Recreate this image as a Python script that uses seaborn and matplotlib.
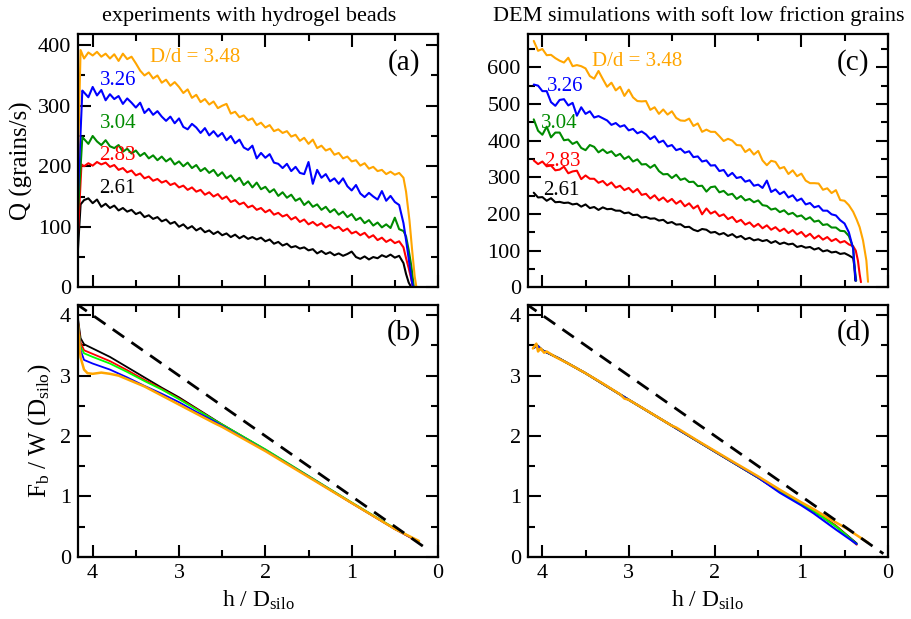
import numpy as np
import matplotlib
matplotlib.use("Agg")
import matplotlib.pyplot as plt
import seaborn as sns
from matplotlib.ticker import MultipleLocator

# ---------------------------------------------------------------- data
# sampling heights h / D_silo for the flow-rate curves (body of each curve)
H_GRID = np.linspace(4.10, 0.40, 75)

DD_LABELS = ["2.61", "2.83", "3.04", "3.26", "3.48"]

# experiments: Q (grains/s)
exp_q_261 = [144, 147, 139, 145, 133, 138, 131, 135, 127, 131,
             125, 128, 121, 124, 116, 119, 113, 116, 109, 112,
             105, 108, 100, 104, 97, 101, 94, 98, 91, 94,
             88, 92, 86, 89, 83, 87, 81, 85, 80, 83,
             79, 82, 76, 79, 72, 75, 69, 72, 66, 68,
             64, 66, 61, 63, 56, 60, 55, 58, 53, 56,
             52, 55, 59, 50, 47, 51, 46, 50, 48, 53,
             50, 54, 49, 52, 40]
exp_q_283 = [200, 205, 201, 207, 203, 206, 199, 202, 194, 197,
             190, 193, 185, 188, 180, 183, 176, 179, 173, 176,
             169, 172, 165, 168, 161, 165, 158, 161, 153, 157,
             150, 154, 146, 150, 141, 144, 137, 140, 132, 135,
             128, 131, 124, 128, 120, 123, 117, 120, 112, 116,
             108, 112, 104, 108, 102, 106, 99, 103, 97, 100,
             93, 97, 89, 92, 86, 90, 82, 86, 78, 82,
             75, 79, 73, 76, 66]
exp_q_304 = [245, 237, 250, 241, 235, 243, 233, 230, 235, 224,
             229, 221, 226, 217, 222, 213, 218, 210, 216, 208,
             213, 203, 208, 200, 206, 197, 202, 192, 197, 189,
             194, 184, 190, 180, 185, 175, 181, 169, 175, 165,
             173, 162, 166, 157, 162, 151, 157, 148, 153, 143,
             147, 136, 142, 133, 137, 128, 133, 124, 129, 120,
             125, 116, 121, 111, 115, 106, 111, 102, 107, 99,
             104, 98, 115, 96, 93]
exp_q_326 = [322, 314, 331, 317, 326, 309, 319, 311, 316, 303,
             312, 305, 297, 305, 288, 295, 285, 291, 282, 275,
             282, 271, 279, 265, 261, 270, 264, 255, 263, 251,
             258, 249, 255, 243, 250, 238, 244, 231, 227, 234,
             213, 222, 214, 220, 206, 204, 197, 204, 192, 199,
             189, 187, 207, 171, 194, 181, 187, 175, 180, 171,
             180, 167, 160, 169, 155, 149, 156, 150, 145, 159,
             143, 151, 141, 136, 106]
exp_q_348 = [378, 388, 383, 389, 381, 386, 378, 385, 374, 386,
             377, 381, 370, 358, 350, 355, 345, 350, 338, 343,
             333, 339, 331, 321, 327, 313, 318, 306, 311, 302,
             307, 296, 300, 303, 287, 290, 281, 284, 276, 279,
             268, 272, 264, 268, 258, 261, 255, 258, 249, 252,
             242, 247, 237, 244, 230, 234, 226, 229, 219, 222,
             213, 216, 208, 210, 201, 205, 196, 199, 192, 194,
             187, 191, 186, 189, 181]
# start-up and emptying ends of each experimental curve: (h, Q)
exp_head = [[(4.18, 40), (4.14, 137)], [(4.18, 60), (4.13, 203)],
            [(4.18, 100), (4.12, 248)], [(4.18, 120), (4.12, 325)],
            [(4.18, 150), (4.14, 392)]]
exp_tail = [[(0.37, 22), (0.34, 8), (0.31, 0)],
            [(0.37, 48), (0.34, 32), (0.31, 14), (0.29, 0)],
            [(0.37, 84), (0.34, 62), (0.31, 36), (0.28, 0)],
            [(0.37, 78), (0.34, 48), (0.31, 16), (0.29, 0)],
            [(0.37, 158), (0.33, 110), (0.30, 62), (0.27, 18), (0.25, 0)]]

# DEM simulations: Q (grains/s)
dem_q_261 = [258, 245, 246, 236, 243, 232, 233, 230, 231, 226,
             228, 220, 226, 216, 219, 211, 218, 213, 214, 209,
             209, 202, 204, 197, 198, 190, 192, 187, 188, 182,
             184, 175, 178, 171, 172, 164, 165, 157, 153, 159,
             157, 149, 151, 144, 148, 140, 145, 136, 140, 131,
             135, 128, 131, 126, 129, 121, 126, 118, 122, 117,
             119, 110, 113, 108, 110, 103, 107, 98, 101, 95,
             97, 91, 93, 87, 80]
dem_q_283 = [346, 336, 343, 330, 332, 319, 321, 329, 311, 316,
             318, 295, 305, 296, 296, 285, 290, 278, 286, 272,
             277, 265, 271, 259, 268, 252, 255, 242, 251, 237,
             245, 233, 241, 228, 236, 221, 229, 215, 223, 199,
             215, 201, 207, 194, 199, 186, 192, 178, 184, 171,
             177, 165, 173, 161, 169, 157, 164, 153, 160, 148,
             156, 144, 151, 138, 146, 133, 141, 130, 137, 126,
             132, 122, 126, 117, 112]
dem_q_304 = [458, 427, 416, 438, 409, 422, 422, 401, 403, 391,
             397, 380, 374, 388, 383, 368, 376, 366, 371, 358,
             364, 350, 357, 343, 349, 335, 336, 326, 334, 317,
             308, 309, 298, 307, 293, 297, 287, 288, 276, 277,
             261, 273, 275, 259, 263, 252, 255, 241, 249, 237,
             241, 232, 237, 224, 222, 212, 215, 205, 210, 199,
             203, 193, 196, 185, 191, 179, 182, 170, 172, 163,
             163, 154, 153, 140, 108]
dem_q_326 = [553, 550, 535, 535, 505, 495, 511, 513, 496, 503,
             468, 491, 473, 480, 463, 467, 461, 455, 443, 448,
             438, 442, 428, 432, 420, 425, 417, 404, 412, 395,
             400, 384, 388, 374, 378, 367, 371, 355, 357, 343,
             346, 332, 333, 317, 320, 303, 312, 298, 301, 288,
             292, 277, 280, 271, 291, 260, 267, 254, 261, 245,
             251, 236, 242, 226, 230, 218, 222, 209, 209, 199,
             196, 183, 174, 150, 105]
dem_q_348 = [672, 645, 650, 633, 634, 625, 618, 613, 626, 603,
             606, 603, 597, 576, 569, 590, 568, 547, 558, 537,
             547, 522, 539, 518, 508, 507, 508, 484, 491, 473,
             485, 471, 480, 462, 455, 454, 460, 440, 447, 424,
             430, 424, 424, 412, 399, 405, 400, 388, 387, 369,
             377, 362, 372, 346, 333, 345, 342, 324, 328, 309,
             319, 303, 310, 291, 284, 284, 283, 266, 270, 257,
             265, 238, 236, 224, 206]
dem_tail = [[(0.385, 55), (0.375, 18)],
            [(0.37, 100), (0.345, 73), (0.325, 36), (0.31, 14)],
            [(0.385, 58), (0.365, 18)],
            [(0.385, 55), (0.37, 18)],
            [(0.36, 185), (0.325, 164), (0.286, 128), (0.247, 73), (0.228, 15)]]

# bottom force F_b / W(D_silo), experiments
exp_fb_h = [4.18, 4.14, 4.10, 4.0, 3.8, 3.6, 3.4, 3.2, 3.0, 2.8, 2.6, 2.5,
            2.0, 1.5, 1.0, 0.5, 0.25]
exp_fb_261 = [4.05, 3.62, 3.52, 3.45, 3.31, 3.14, 2.97, 2.80, 2.64, 2.46,
              2.28, 2.19, 1.77, 1.33, 0.89, 0.46, 0.27]
exp_fb_283 = [4.0, 3.55, 3.42, 3.36, 3.24, 3.09, 2.93, 2.78, 2.62, 2.45,
              2.27, 2.19, 1.77, 1.33, 0.89, 0.46, 0.26]
exp_fb_304 = [4.0, 3.48, 3.37, 3.31, 3.20, 3.06, 2.91, 2.77, 2.61, 2.44,
              2.27, 2.19, 1.78, 1.34, 0.90, 0.47, 0.27]
exp_fb_326 = [4.0, 3.42, 3.26, 3.20, 3.10, 2.97, 2.83, 2.70, 2.56, 2.40,
              2.25, 2.17, 1.76, 1.33, 0.89, 0.46, 0.27]
exp_fb_348_h = [4.18, 4.14, 4.10, 4.06, 4.0, 3.9, 3.8, 3.7, 3.6, 3.4, 3.2,
                3.0, 2.8, 2.6, 2.5, 2.0, 1.5, 1.0, 0.5, 0.22]
exp_fb_348 = [4.0, 3.30, 3.10, 3.04, 3.03, 3.05, 3.03, 3.00, 2.94, 2.82,
              2.67, 2.52, 2.37, 2.22, 2.15, 1.75, 1.32, 0.89, 0.46, 0.26]

# bottom force F_b / W(D_silo), DEM
dem_fb_h = [4.10, 4.06, 4.0, 3.8, 3.5, 3.0, 2.5, 2.0, 1.5, 1.25, 1.0, 0.86,
            0.6, 0.36]
dem_fb_261 = [3.46, 3.50, 3.42, 3.28, 3.04, 2.60, 2.17, 1.74, 1.31, 1.08,
              0.87, 0.76, 0.51, 0.22]
dem_fb_283 = [3.46, 3.50, 3.42, 3.28, 3.04, 2.60, 2.17, 1.74, 1.31, 1.08,
              0.87, 0.77, 0.51, 0.20]
dem_fb_304 = [3.46, 3.50, 3.42, 3.28, 3.04, 2.60, 2.17, 1.74, 1.31, 1.08,
              0.87, 0.76, 0.50, 0.21]
dem_fb_326 = [3.46, 3.50, 3.42, 3.28, 3.04, 2.60, 2.17, 1.74, 1.31, 1.06,
              0.85, 0.72, 0.45, 0.21]
dem_fb_348_h = [4.11, 4.07, 4.05, 4.02, 3.98, 3.95, 3.85, 3.7, 3.5, 3.3, 3.1,
                3.05, 3.0, 2.8, 2.5, 2.45, 2.2, 2.0, 1.8, 1.5, 1.25, 1.0,
                0.86, 0.7, 0.48, 0.225]
dem_fb_348 = [3.45, 3.53, 3.40, 3.45, 3.38, 3.40, 3.31, 3.20, 3.04, 2.87,
              2.69, 2.62, 2.60, 2.43, 2.17, 2.14, 1.92, 1.75, 1.58, 1.33,
              1.11, 0.90, 0.79, 0.65, 0.47, 0.23]

# hydrostatic reference F_b / W = h / D_silo
ref_exp_h = [4.20, 0.11]
ref_dem_h = [4.20, 0.05]

COLORS_TOP = ["#000000", "#ff0000", "#008b00", "#0000ff", "#ffa500"]
COLORS_BOT = ["#000000", "#ff0000", "#00ff00", "#0000ff", "#ffa500"]

# ---------------------------------------------------------------- style
sns.set_style("ticks")
plt.rcParams["font.family"] = ["Liberation Serif", "DejaVu Serif"]
plt.rcParams["mathtext.fontset"] = "custom"
plt.rcParams["mathtext.rm"] = "Liberation Serif"
plt.rcParams["mathtext.it"] = "Liberation Serif:italic"
for key in ["text.color", "axes.labelcolor", "xtick.color", "ytick.color",
            "axes.edgecolor"]:
    plt.rcParams[key] = "black"

fig = plt.figure(figsize=(9.12, 6.19), dpi=100)
W, Hpx = 912.0, 619.0
ax_a = fig.add_axes([78 / W, 1 - 287.3 / Hpx, 360 / W, 253 / Hpx])
ax_b = fig.add_axes([78 / W, 1 - 556.7 / Hpx, 360 / W, 251.7 / Hpx])
ax_c = fig.add_axes([527.7 / W, 1 - 287.3 / Hpx, 360 / W, 253 / Hpx])
ax_d = fig.add_axes([527.7 / W, 1 - 556.7 / Hpx, 360 / W, 251.7 / Hpx])


def assemble(head, body, tail):
    hs = [p[0] for p in head] + list(H_GRID) + [p[0] for p in tail]
    qs = [p[1] for p in head] + list(body) + [p[1] for p in tail]
    return np.array(hs), np.array(qs)


def draw(ax, h, y, color, lw):
    sns.lineplot(x=h, y=y, color=color, lw=lw, ax=ax, sort=False,
                 estimator=None, legend=False)


# (a) experiments, flow rate
exp_bodies = [exp_q_261, exp_q_283, exp_q_304, exp_q_326, exp_q_348]
for body, head, tail, col in zip(exp_bodies, exp_head, exp_tail, COLORS_TOP):
    h, q = assemble(head, body, tail)
    draw(ax_a, h, q, col, 1.5)

# (c) DEM, flow rate
dem_bodies = [dem_q_261, dem_q_283, dem_q_304, dem_q_326, dem_q_348]
for body, tail, col in zip(dem_bodies, dem_tail, COLORS_TOP):
    h, q = assemble([], body, tail)
    draw(ax_c, h, q, col, 1.5)

# (b) experiments, bottom force
for fb, col in zip([exp_fb_261, exp_fb_283, exp_fb_304, exp_fb_326], COLORS_BOT[:4]):
    draw(ax_b, np.array(exp_fb_h), np.array(fb), col, 1.3)
draw(ax_b, np.array(exp_fb_348_h), np.array(exp_fb_348), COLORS_BOT[4], 1.8)

# (d) DEM, bottom force
for fb, col in zip([dem_fb_261, dem_fb_283, dem_fb_304, dem_fb_326], COLORS_BOT[:4]):
    draw(ax_d, np.array(dem_fb_h), np.array(fb), col, 1.5)
draw(ax_d, np.array(dem_fb_348_h), np.array(dem_fb_348), COLORS_BOT[4], 1.8)

for ax, ref in [(ax_b, ref_exp_h), (ax_d, ref_dem_h)]:
    ax.plot(ref, ref, color="black", lw=2.0, dashes=(5, 3.2))

# ---------------------------------------------------------------- axes
for ax in (ax_a, ax_b, ax_c, ax_d):
    ax.set_xlim(4.17, 0)
    ax.xaxis.set_major_locator(MultipleLocator(1))
    ax.xaxis.set_minor_locator(MultipleLocator(0.5))
    ax.tick_params(which="both", direction="in", top=True, right=True,
                   width=1.5, labelsize=16, pad=5, colors="black")
    ax.tick_params(which="major", length=9)
    ax.tick_params(which="minor", length=5)
    for s in ax.spines.values():
        s.set_linewidth(1.6)
        s.set_color("black")
    ax.set_xlabel("")
    ax.set_ylabel("")

ax_a.set_ylim(0, 418)
ax_a.yaxis.set_major_locator(MultipleLocator(100))
ax_a.yaxis.set_minor_locator(MultipleLocator(50))
ax_c.set_ylim(0, 690)
ax_c.yaxis.set_major_locator(MultipleLocator(100))
ax_c.yaxis.set_minor_locator(MultipleLocator(50))
for ax in (ax_b, ax_d):
    ax.set_ylim(0, 4.17)
    ax.yaxis.set_major_locator(MultipleLocator(1))
    ax.yaxis.set_minor_locator(MultipleLocator(0.5))
for ax in (ax_a, ax_c):
    ax.tick_params(labelbottom=False)

ax_a.set_ylabel("Q (grains/s)", fontsize=18)
ax_a.yaxis.set_label_coords(-0.125, 0.5)
ax_b.set_ylabel(r"F$_\mathregular{b}$ / W (D$_\mathregular{silo}$)", fontsize=18)
ax_b.yaxis.set_label_coords(-0.07, 0.5)
for ax in (ax_b, ax_d):
    ax.set_xlabel(r"h / D$_\mathregular{silo}$", fontsize=17, labelpad=4)

# curve labels
label_pos_a = [(3.92, 163), (3.92, 217), (3.92, 270), (3.92, 341), (3.34, 379)]
label_pos_c = [(3.99, 265), (3.98, 342), (4.02, 446), (3.95, 547), (3.43, 616)]
for ax, pos in [(ax_a, label_pos_a), (ax_c, label_pos_c)]:
    for (x, y), lab, col in zip(pos, DD_LABELS, COLORS_TOP):
        txt = "D/d = " + lab if lab == "3.48" else lab
        ax.text(x, y, txt, color=col, fontsize=15, ha="left", va="center")

for ax, tag in [(ax_a, "(a)"), (ax_b, "(b)"), (ax_c, "(c)"), (ax_d, "(d)")]:
    ax.text(0.905, 0.89, tag, transform=ax.transAxes, fontsize=21,
            ha="center", va="center")

fig.text(249 / W, 1 - 16 / Hpx, "experiments with hydrogel beads",
         fontsize=16, ha="center", va="center")
fig.text(699 / W, 1 - 16 / Hpx, "DEM simulations with soft low friction grains",
         fontsize=16, ha="center", va="center")

fig.savefig("out.png", dpi=100)
